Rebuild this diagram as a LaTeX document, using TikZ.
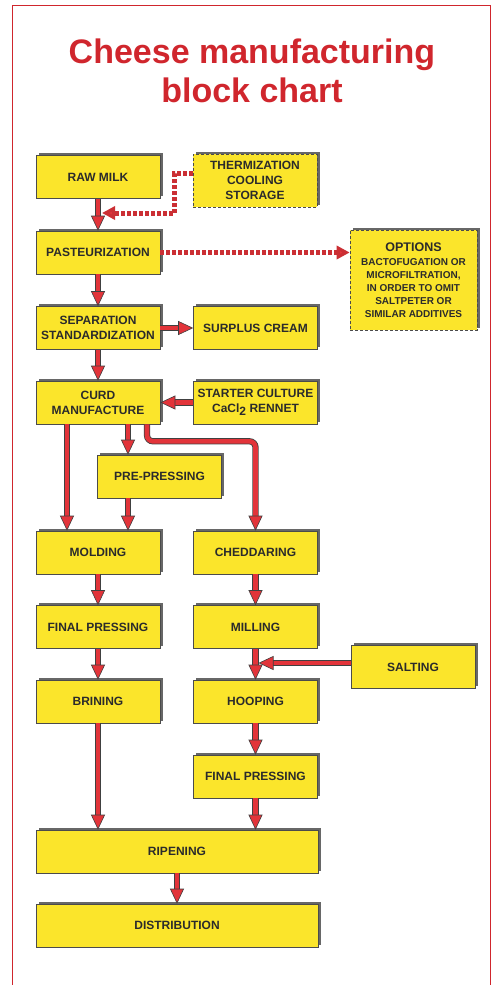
\documentclass[tikz,border=0pt]{standalone}
\usepackage{fontspec}
\setmainfont{Liberation Sans}
\usetikzlibrary{arrows.meta,shadows}
\definecolor{boxyellow}{HTML}{FBE52B}
\definecolor{arrowred}{HTML}{E2343A}
\definecolor{titlered}{HTML}{D0262D}
\definecolor{inkgray}{HTML}{2B2B2B}
\tikzset{
  stage/.style={draw=inkgray!85, line width=0.6pt, fill=boxyellow, text=inkgray,
    minimum width=124pt, minimum height=43pt, inner sep=1pt, align=center,
    font=\fontsize{12}{15}\selectfont\bfseries,
    drop shadow={shadow xshift=2.5pt, shadow yshift=2.5pt, fill=black!70, opacity=0.85}},
  option/.style={stage, dash pattern=on 3pt off 2pt},
  flow/.style={draw=arrowred, line width=4.6pt,
    preaction={draw=inkgray!90, line width=6.2pt, -, shorten >=10pt},
    -{Triangle[length=15pt, width=14pt, line width=0.6pt, color=inkgray!90, fill=arrowred]}},
  dotflow/.style={draw=arrowred!90!black, line width=5pt, dash pattern=on 4pt off 2pt,
    -{Triangle[length=13pt, width=13pt, fill=arrowred]}}
}
\begin{document}
\begin{tikzpicture}[x=1pt, y=-1pt]
  \useasboundingbox (0,0) rectangle (493,985);
  % frame and title
  \draw[titlered, line width=0.8pt] (12,985) -- (12,5) -- (490,5) -- (490,985);
  \node[anchor=base, text=titlered, font=\fontsize{34}{40}\selectfont\bfseries] (title1) at (252,63) {Cheese manufacturing};
  \node[anchor=base, text=titlered, font=\fontsize{34}{40}\selectfont\bfseries] (title2) at (252,102) {block chart};

  % left column
  \node[stage] (raw) at (98,177) {RAW MILK};
  \node[stage] (past) at (98,252.5) {PASTEURIZATION};
  \node[stage] (sep) at (98,328) {SEPARATION\\STANDARDIZATION};
  \node[stage] (curd) at (98,402.5) {CURD\\MANUFACTURE};
  \node[stage] (prep) at (159.5,476.5) {PRE-PRESSING};
  \node[stage] (mold) at (98,552.5) {MOLDING};
  \node[stage] (fpl) at (98,627) {FINAL PRESSING};
  \node[stage] (brine) at (98,701.5) {BRINING};

  % right column
  \node[option, minimum height=53pt] (therm) at (255,180.5) {THERMIZATION\\COOLING\\STORAGE};
  \node[option, minimum width=127pt, minimum height=100pt, font=\fontsize{10}{13}\selectfont\bfseries] (opts) at (413.5,280)
    {{\fontsize{12.5}{15}\selectfont OPTIONS}\\[1pt]BACTOFUGATION OR\\MICROFILTRATION,\\IN ORDER TO OMIT\\SALTPETER OR\\SIMILAR ADDITIVES};
  \node[stage] (cream) at (255.5,328) {SURPLUS CREAM};
  \node[stage] (starter) at (255.5,402.5) {STARTER CULTURE\\CaCl\raisebox{-2.5pt}{2} RENNET};
  \node[stage] (ched) at (255.5,552.5) {CHEDDARING};
  \node[stage] (mill) at (255.5,627) {MILLING};
  \node[stage] (salt) at (413,667) {SALTING};
  \node[stage] (hoop) at (255.5,701.5) {HOOPING};
  \node[stage] (fpr) at (255.5,776.5) {FINAL PRESSING};

  % bottom
  \node[stage, minimum width=282pt] (ripe) at (177,851.5) {RIPENING};
  \node[stage, minimum width=282pt] (dist) at (177,925.5) {DISTRIBUTION};

  \coordinate (tj) at (98,213);
  \coordinate (sj) at (255.5,663);

  % dotted side branches
  \draw[dotflow] ([yshift=7.5pt]therm.west) -- ++(-18,0) |- ([xshift=4pt]tj);
  \draw[dotflow] (past.east) -- (past.east -| opts.west);

  % main flow
  \draw[flow] (raw) -- (past);
  \draw[flow] (past) -- (sep);
  \draw[flow] (sep) -- (cream);
  \draw[flow] (sep) -- (curd);
  \draw[flow] (starter) -- (curd);
  \draw[flow] ([xshift=-31pt]curd.south) -- ([xshift=-31pt]mold.north);
  \draw[flow] ([xshift=30pt]curd.south) -- ([xshift=30pt]curd.south |- prep.north);
  \draw[flow] ([xshift=-31.5pt]prep.south) -- ([xshift=-31.5pt]prep.south |- mold.north);
  \draw[flow, rounded corners=6pt] ([xshift=49pt]curd.south) -- ++(0,17) -| (ched.north);
  \draw[flow] (mold) -- (fpl);
  \draw[flow] (fpl) -- (brine);
  \draw[flow] (brine) -- (brine.south |- ripe.north);
  \draw[flow] (ched) -- (mill);
  \draw[flow] (mill) -- (hoop);
  \draw[flow] (salt.west |- sj) -- ([xshift=3pt]sj);
  \draw[flow] (hoop) -- (fpr);
  \draw[flow] (fpr) -- (fpr.south |- ripe.north);
  \draw[flow] (ripe) -- (dist);
\end{tikzpicture}
\end{document}
